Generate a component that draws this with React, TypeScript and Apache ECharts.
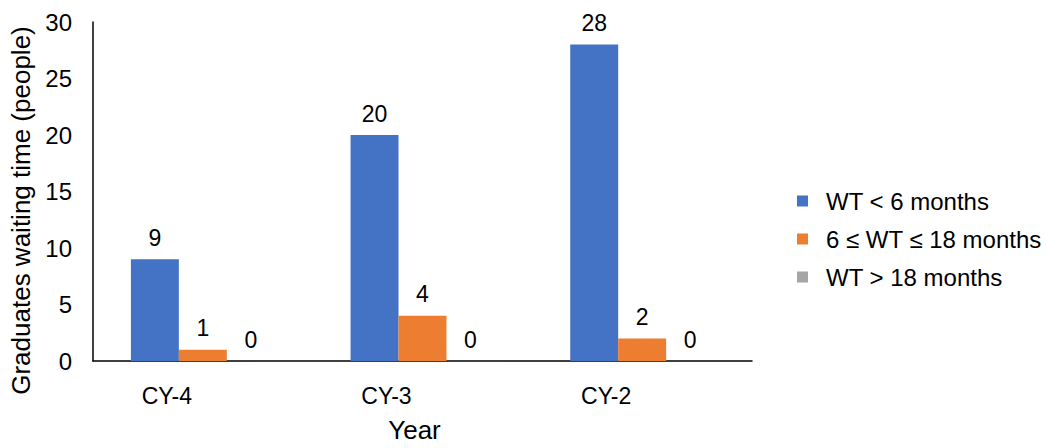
import React, { useEffect, useRef } from "react";
import * as echarts from "echarts";

const categories = ["CY-4", "CY-3", "CY-2"];
const seriesNames = ["WT < 6 months", "6 ≤ WT ≤ 18 months", "WT > 18 months"];
const under6 = [9, 20, 28];
const between6and18 = [1, 4, 2];
const over18 = [0, 0, 0];
const yTicks = [0, 5, 10, 15, 20, 25, 30];
const colors = ["#4472C4", "#ED7D31", "#A5A5A5"];

export default function App() {
  const ref = useRef<HTMLDivElement>(null);
  useEffect(() => {
    if (!ref.current) return;
    const chart = echarts.init(ref.current, undefined, { renderer: "svg" });
    const font = "Liberation Sans, Arial, sans-serif";
    const mk = (name: string, data: number[], color: string) => ({
      name,
      type: "bar",
      data,
      barGap: "0%",
      barCategoryGap: "34.5%",
      itemStyle: { color },
      label: {
        show: true,
        position: "top",
        distance: 10,
        color: "#000",
        fontSize: 23,
        fontFamily: font,
      },
    });
    chart.setOption({
      animation: false,
      textStyle: { fontFamily: font },
      grid: { left: 93, right: 295, top: 22, bottom: 76, containLabel: false },
      legend: {
        orient: "vertical",
        left: 792,
        top: 184,
        itemWidth: 11,
        itemHeight: 11,
        itemGap: 14,
        icon: "rect",
        textStyle: { fontSize: 24, color: "#000", fontFamily: font, padding: [0, 0, 0, 13] },
        data: seriesNames,
      },
      xAxis: {
        type: "category",
        data: categories,
        name: "Year",
        nameLocation: "middle",
        nameGap: 56,
        nameTextStyle: { fontSize: 26, color: "#000", fontFamily: font, padding: [0, 16, 0, 0] },
        axisLine: { lineStyle: { color: "#000", width: 1.5 } },
        axisTick: { show: false },
        axisLabel: { fontSize: 23, color: "#000", margin: 23, fontFamily: font, padding: [0, 72, 0, 0] },
      },
      yAxis: {
        type: "value",
        min: yTicks[0],
        max: yTicks[yTicks.length - 1],
        interval: 5,
        name: "Graduates waiting time (people)",
        nameLocation: "middle",
        nameGap: 55,
        nameTextStyle: { fontSize: 26, color: "#000", fontFamily: font, padding: [0, 38, 0, 0] },
        axisLine: { show: true, lineStyle: { color: "#000", width: 1.5 } },
        axisTick: { show: false },
        splitLine: { show: false },
        axisLabel: { fontSize: 24, color: "#000", margin: 21, fontFamily: font },
      },
      series: [
        mk(seriesNames[0], under6, colors[0]),
        mk(seriesNames[1], between6and18, colors[1]),
        mk(seriesNames[2], over18, colors[2]),
      ],
    });
    return () => chart.dispose();
  }, []);
  return <div ref={ref} style={{ position: "absolute", left: 0, top: 0, width: 1047, height: 448 }} />;
}
